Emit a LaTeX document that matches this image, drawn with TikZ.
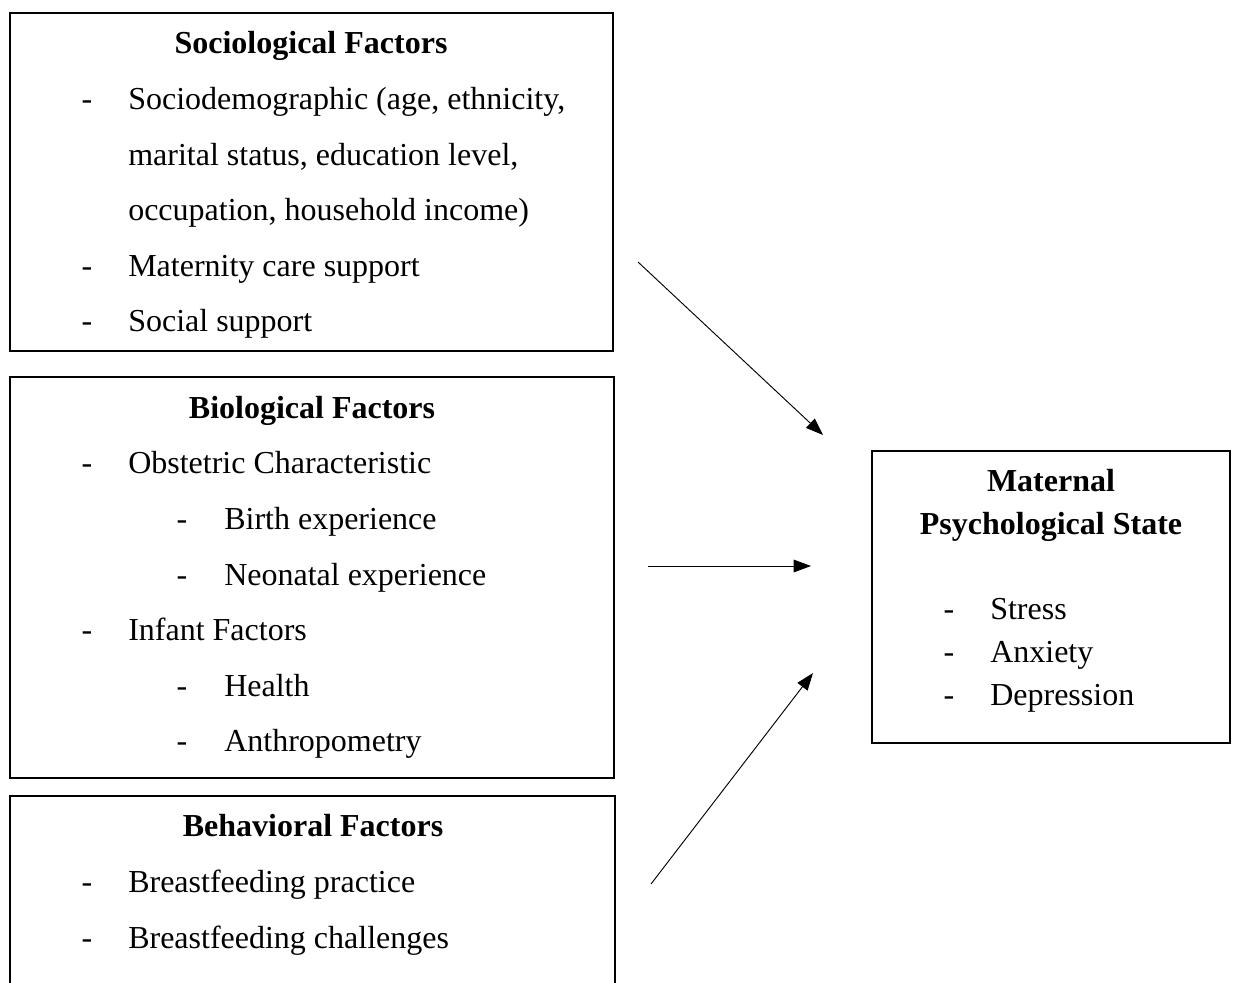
\documentclass[tikz,border=0pt]{standalone}
\usepackage{fontspec}
\setmainfont{Liberation Serif}
\usetikzlibrary{arrows.meta,fit}
\begin{document}
\begin{tikzpicture}[x=0.75pt,y=-0.75pt,
  boxline/.style={draw=black,line width=1.3pt,inner sep=0pt},
  txt/.style={anchor=base west,inner sep=0pt,font=\fontsize{24}{28}\selectfont},
  ttl/.style={anchor=base,inner sep=0pt,font=\fontsize{24}{28}\selectfont\bfseries},
  dsh/.style={anchor=base,inner sep=0pt,font=\fontsize{24}{28}\selectfont},
  arr/.style={line width=0.7pt,-{Triangle[length=13pt,width=9.5pt]}}]
\useasboundingbox (0,0) rectangle (1234,982);
% boxes
\node[boxline,fit={(10,13) (613,351)}] (soc) {};
\node[boxline,fit={(10,377) (614,778)}] (bio) {};
\coordinate (behTL) at (10,796);
\coordinate (behTR) at (615,796);
\coordinate (behBL) at (10,995);
\coordinate (behBR) at (615,995);
\draw[line width=1.3pt] (behBL) -- (behTL) -- (behTR) -- (behBR);
\node[boxline,fit={(872,451) (1230,743)}] (mat) {};
% Sociological
\node[ttl] (sT) at (311,53) {Sociological Factors};
\node[dsh] (sd1) at (87,109) {-}; \node[txt] (s1) at (128,109) {Sociodemographic (age, ethnicity,};
\node[txt] (s2) at (128,165) {marital status, education level,};
\node[txt] (s3) at (128,220) {occupation, household income)};
\node[dsh] (sd4) at (87,276) {-}; \node[txt] (s4) at (128,276) {Maternity care support};
\node[dsh] (sd5) at (87,331) {-}; \node[txt] (s5) at (128,331) {Social support};
% Biological
\node[ttl] (bT) at (312,418) {Biological Factors};
\node[dsh] (bd1) at (87,473) {-}; \node[txt] (b1) at (128,473) {Obstetric Characteristic};
\node[dsh] (bd2) at (182,529) {-}; \node[txt] (b2) at (224,529) {Birth experience};
\node[dsh] (bd3) at (182,585) {-}; \node[txt] (b3) at (224,585) {Neonatal experience};
\node[dsh] (bd4) at (87,640) {-}; \node[txt] (b4) at (128,640) {Infant Factors};
\node[dsh] (bd5) at (182,696) {-}; \node[txt] (b5) at (224,696) {Health};
\node[dsh] (bd6) at (182,751) {-}; \node[txt] (b6) at (224,751) {Anthropometry};
% Behavioral
\node[ttl] (hT) at (313,836) {Behavioral Factors};
\node[dsh] (hd1) at (87,892) {-}; \node[txt] (h1) at (128,892) {Breastfeeding practice};
\node[dsh] (hd2) at (87,948) {-}; \node[txt] (h2) at (128,948) {Breastfeeding challenges};
% Maternal
\node[ttl] (mT1) at (1051,491) {Maternal};
\node[ttl] (mT2) at (1051,534) {Psychological State};
\node[dsh] (md1) at (949,619) {-}; \node[txt] (m1) at (990,619) {Stress};
\node[dsh] (md2) at (949,662) {-}; \node[txt] (m2) at (990,662) {Anxiety};
\node[dsh] (md3) at (949,705) {-}; \node[txt] (m3) at (990,705) {Depression};
% arrows
\coordinate (a1s) at (638,262); \coordinate (a1e) at (823,435);
\coordinate (a2s) at (648,566); \coordinate (a2e) at (811,566);
\coordinate (a3s) at (651,884); \coordinate (a3e) at (813,673);
\draw[arr] (a1s) -- (a1e);
\draw[arr] (a2s) -- (a2e);
\draw[arr] (a3s) -- (a3e);
\end{tikzpicture}
\end{document}
